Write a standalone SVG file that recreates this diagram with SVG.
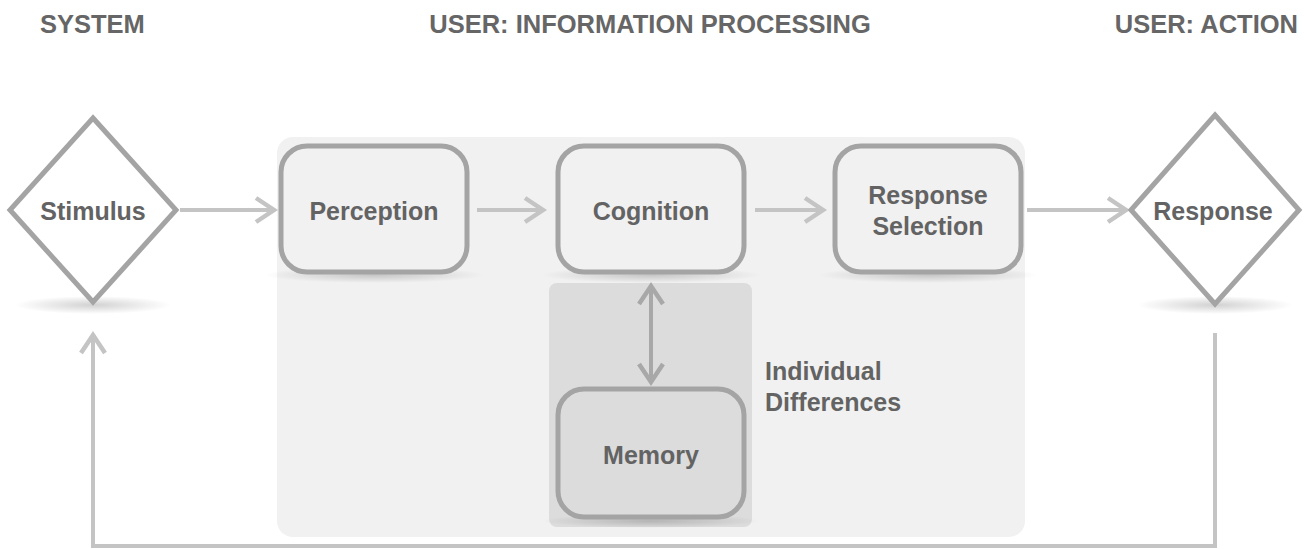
<svg xmlns="http://www.w3.org/2000/svg" width="1304" height="549" viewBox="0 0 1304 549">
<style>
  .hdr { font-family: "Liberation Sans", Arial, sans-serif; font-weight: bold; font-size: 25.5px; fill: #666; }
  .lbl { font-family: "Liberation Sans", Arial, sans-serif; font-weight: bold; font-size: 25px; fill: #636363; text-anchor: middle; }
  .side { font-family: "Liberation Sans", Arial, sans-serif; font-weight: bold; font-size: 25px; fill: #636363; }
  .box { fill: #f1f1f1; stroke: #a4a4a4; stroke-width: 5; }
  .mbox { fill: #dcdcdc; stroke: #a4a4a4; stroke-width: 5; }
  .dia { fill: #ffffff; stroke: #a4a4a4; stroke-width: 5; stroke-linejoin: miter; }
  .conn { fill: none; stroke: #c4c4c4; stroke-width: 4; }
  .conn2 { fill: none; stroke: #a8a8a8; stroke-width: 4; }
</style>
<defs>
  <marker id="arr" markerUnits="userSpaceOnUse" markerWidth="30" markerHeight="30" viewBox="-24 -15 28 30" refX="0" refY="0" orient="auto-start-reverse">
    <path d="M -18 -12 L 0 0 L -18 12" fill="none" stroke="#c4c4c4" stroke-width="4.5" stroke-linejoin="miter"/>
  </marker>
  <marker id="arr2" markerUnits="userSpaceOnUse" markerWidth="30" markerHeight="30" viewBox="-24 -15 28 30" refX="0" refY="0" orient="auto-start-reverse">
    <path d="M -18 -12 L 0 0 L -18 12" fill="none" stroke="#a8a8a8" stroke-width="4.5"/>
  </marker>
  <radialGradient id="sh">
    <stop offset="0" stop-color="#000" stop-opacity="0.18"/>
    <stop offset="1" stop-color="#000" stop-opacity="0"/>
  </radialGradient>
</defs>
<rect width="1304" height="549" fill="#ffffff"/>

<g id="headers">
  <text class="hdr" x="40" y="33">SYSTEM</text>
  <text class="hdr" x="650" y="33" text-anchor="middle">USER: INFORMATION PROCESSING</text>
  <text class="hdr" x="1298" y="33" text-anchor="end">USER: ACTION</text>
</g>

<g id="panel">
  <rect x="277" y="137" width="748" height="400" rx="16" fill="#f1f1f1"/>
</g>

<g id="shadows">
  <ellipse cx="93" cy="305" rx="78" ry="9" fill="url(#sh)"/>
  <ellipse cx="1215" cy="305" rx="78" ry="9" fill="url(#sh)"/>
  <ellipse cx="374" cy="275" rx="110" ry="8" fill="url(#sh)"/>
  <ellipse cx="651" cy="275" rx="110" ry="8" fill="url(#sh)"/>
  <ellipse cx="928" cy="275" rx="110" ry="8" fill="url(#sh)"/>
</g>

<g id="individual-differences">
  <rect x="549" y="283" width="203" height="244" rx="8" fill="#dcdcdc"/>
  <ellipse cx="651" cy="521" rx="110" ry="7" fill="url(#sh)"/>
  <text class="side" x="765" y="380">Individual</text>
  <text class="side" x="765" y="411">Differences</text>
</g>

<g id="connectors">
  <line class="conn" x1="180" y1="210" x2="274" y2="210" marker-end="url(#arr)"/>
  <line class="conn" x1="477" y1="210" x2="543" y2="210" marker-end="url(#arr)"/>
  <line class="conn" x1="755" y1="210" x2="823" y2="210" marker-end="url(#arr)"/>
  <line class="conn" x1="1027" y1="210" x2="1126" y2="210" marker-end="url(#arr)"/>
  <line class="conn2" x1="651" y1="286" x2="651" y2="382" marker-start="url(#arr2)" marker-end="url(#arr2)"/>
  <polyline class="conn" points="1215,333 1215,546 93,546 93,335" marker-end="url(#arr)"/>
</g>

<g id="stimulus">
  <polygon class="dia" points="93,118 176,210 93,302 10,210"/>
  <text class="lbl" x="93" y="220">Stimulus</text>
</g>

<g id="perception">
  <rect class="box" x="281" y="146" width="186" height="126" rx="26"/>
  <text class="lbl" x="374" y="220">Perception</text>
</g>

<g id="cognition">
  <rect class="box" x="558" y="146" width="186" height="126" rx="26"/>
  <text class="lbl" x="651" y="220">Cognition</text>
</g>

<g id="response-selection">
  <rect class="box" x="835" y="146" width="186" height="126" rx="26"/>
  <text class="lbl" x="928" y="204">Response</text>
  <text class="lbl" x="928" y="235">Selection</text>
</g>

<g id="memory">
  <rect class="mbox" x="558" y="389" width="186" height="128" rx="26"/>
  <text class="lbl" x="651" y="464">Memory</text>
</g>

<g id="response">
  <polygon class="dia" points="1215,115 1299,210 1215,304 1131,210"/>
  <text class="lbl" x="1213" y="220">Response</text>
</g>
</svg>
